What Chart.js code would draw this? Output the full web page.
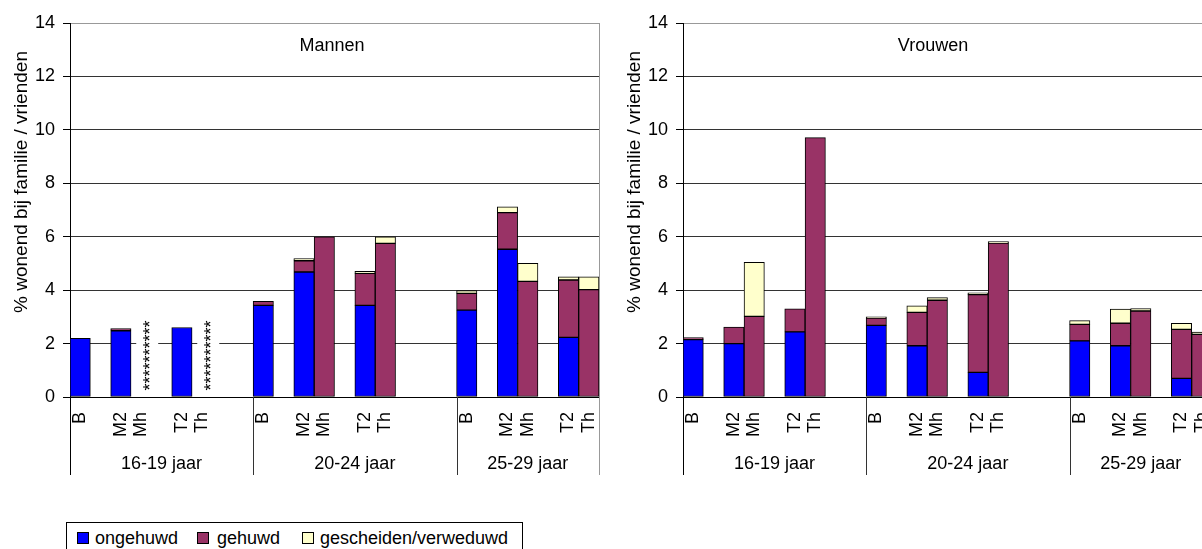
<!DOCTYPE html>
<html><head><meta charset="utf-8">
<script src="https://cdn.jsdelivr.net/npm/chart.js@4"></script>
<style>
html,body{margin:0;padding:0;background:#fff;overflow:hidden;width:1202px;height:549px;position:relative}
canvas{position:absolute;top:0}
#c1{left:0}
#c2{left:613px}
#legend{position:absolute;left:66px;top:522px;width:455px;height:40px;border:1px solid #000;font:18px 'Liberation Sans',Arial,sans-serif;color:#000;background:#fff}
.sw{position:absolute;top:9px;width:10px;height:10px;border:1px solid #000}
.lt{position:absolute;top:5px;line-height:20px;white-space:nowrap}
</style></head><body>
<canvas id="c1" width="612" height="500"></canvas>
<canvas id="c2" width="612" height="500"></canvas>
<div id="legend"></div>
<script>
// ---- data ----
const groups = ['16-19 jaar', '20-24 jaar', '25-29 jaar'];
const subLabels = ['B', 'M2', 'Mh', 'T2', 'Th'];
const seriesNames = ['ongehuwd', 'gehuwd', 'gescheiden/verweduwd'];
const yTicks = [0, 2, 4, 6, 8, 10, 12, 14];

// order per group: B, M2, Mh, T2, Th
const mannenOngehuwd   = [2.2, 2.48, null, 2.6, null,   3.43, 4.68, null, 3.43, null,   3.25, 5.53, null, 2.23, null];
const mannenGehuwd     = [null, 0.08, null, null, null, 0.15, 0.42, 6.0, 1.2, 5.75,     0.63, 1.37, 4.33, 2.15, 4.02];
const mannenGescheiden = [null, null, null, null, null, null, 0.08, null, 0.07, 0.25,   0.1, 0.22, 0.67, 0.12, 0.48];
const mannenNotes      = [null, null, '**********', null, '**********', null, null, null, null, null, null, null, null, null, null];

const vrouwenOngehuwd   = [2.15, 2.0, null, 2.44, null,  2.68, 1.92, null, 0.92, null,  2.1, 1.92, null, 0.7, null];
const vrouwenGehuwd     = [0.07, 0.62, 3.02, 0.86, 9.71, 0.27, 1.25, 3.62, 2.91, 5.76,  0.62, 0.84, 3.22, 1.83, 2.35];
const vrouwenGescheiden = [null, null, 2.02, null, null, 0.05, 0.24, 0.1, 0.07, 0.06,   0.14, 0.53, 0.09, 0.23, 0.08];
const vrouwenNotes      = [null, null, null, null, null, null, null, null, null, null, null, null, null, null, null];

// ---- layout (slots on the category axis) ----
const slotsPerGroup = [9, 10, 7];
const subSlot = [0, 2, 3, 5, 6];
const colors = ['#0000FF', '#993366', '#FFFFCC'];
const FONT = "'Liberation Sans', Arial, sans-serif";

function expand(arr) {
  const out = [];
  groups.forEach((g, gi) => {
    const row = new Array(slotsPerGroup[gi]).fill(null);
    subSlot.forEach((s, si) => { row[s] = arr[gi * subLabels.length + si]; });
    out.push(...row);
  });
  return out;
}
const slotLabels = expand(groups.flatMap(() => subLabels)).map(v => v === null ? '' : v);
const groupStart = slotsPerGroup.map((n, i) => slotsPerGroup.slice(0, i).reduce((a, b) => a + b, 0));

const decor = {
  id: 'decor',
  afterDatasetsDraw(chart, args, o) {
    const ctx = chart.ctx, x = chart.scales.x, y = chart.scales.y;
    const notes = expand(o.notes);
    ctx.save();
    notes.forEach((t, i) => {
      if (!t) return;
      const cx = x.getPixelForValue(i);
      const cy = y.getPixelForValue(1.55);
      ctx.fillStyle = '#fff';
      ctx.fillRect(cx - 5, cy - 38, 22, 76);
      ctx.translate(cx + 10, cy);
      ctx.rotate(-Math.PI / 2);
      ctx.fillStyle = '#000';
      ctx.font = '18px ' + FONT;
      ctx.textAlign = 'center';
      ctx.textBaseline = 'middle';
      ctx.fillText(t, 0, 0);
      ctx.setTransform(1, 0, 0, 1, 0, 0);
    });
    ctx.restore();
  },
  afterDraw(chart, args, o) {
    const ctx = chart.ctx, x = chart.scales.x, a = chart.chartArea;
    const slot = x.getPixelForValue(1) - x.getPixelForValue(0);
    const bottom = a.bottom + 78;
    ctx.save();
    // right plot border
    ctx.strokeStyle = '#999';
    ctx.lineWidth = 1;
    ctx.beginPath();
    ctx.moveTo(Math.round(a.right) + 0.5, a.top);
    ctx.lineTo(Math.round(a.right) + 0.5, bottom);
    ctx.stroke();
    // group separators and labels
    const bounds = groupStart.map(s => x.getPixelForValue(s) - slot / 2).concat([a.right]);
    bounds.slice(0, -1).forEach((bx, i) => {
      ctx.strokeStyle = i === 0 ? '#000' : '#333';
      ctx.beginPath();
      ctx.moveTo(Math.round(bx) + 0.5, a.bottom);
      ctx.lineTo(Math.round(bx) + 0.5, bottom);
      ctx.stroke();
    });
    ctx.fillStyle = '#000';
    ctx.font = '18px ' + FONT;
    ctx.textAlign = 'center';
    ctx.textBaseline = 'middle';
    groups.forEach((g, i) => {
      ctx.fillText(g, (bounds[i] + bounds[i + 1]) / 2, a.bottom + 67);
    });
    // panel title
    ctx.fillText(o.title, a.left + o.titleDx, 46);
    // y axis title
    ctx.translate(a.left - 48, 182);
    ctx.rotate(-Math.PI / 2);
    ctx.font = '19px ' + FONT;
    ctx.fillText(o.yTitle, 0, 0);
    ctx.restore();
  }
};

function makeChart(id, o, g, s, notes, title, titleDx) {
  return new Chart(document.getElementById(id), {
    type: 'bar',
    data: {
      labels: slotLabels,
      datasets: [o, g, s].map((d, i) => ({
        label: seriesNames[i],
        data: expand(d),
        backgroundColor: colors[i],
        borderColor: '#000',
        borderWidth: 1,
        borderSkipped: false,
        barPercentage: 1,
        categoryPercentage: 1
      }))
    },
    options: {
      responsive: false,
      animation: false,
      devicePixelRatio: 1,
      layout: { padding: { top: 23, right: 13, left: 0, bottom: 0 } },
      plugins: {
        legend: { display: false },
        tooltip: { enabled: false },
        decor: { notes: notes, title: title, titleDx: titleDx, yTitle: '% wonend bij familie / vrienden' }
      },
      scales: {
        x: {
          stacked: true,
          grid: { display: false, drawTicks: false },
          border: { display: true, color: '#000', width: 1 },
          ticks: { autoSkip: false, maxRotation: 90, minRotation: 90, padding: 15, color: '#000', font: { size: 18, family: FONT } },
          afterFit(sc) { sc.height = 103; sc.paddingLeft = 0; sc.paddingRight = 0; }
        },
        y: {
          stacked: true,
          min: 0, max: 14,
          afterBuildTicks(sc) { sc.ticks = yTicks.map(v => ({ value: v })); },
          grid: {
            color: c => (c.tick && c.tick.value === 14) ? '#999' : '#333',
            tickColor: '#000',
            tickLength: 7,
            lineWidth: 1
          },
          border: { display: true, color: '#000', width: 1 },
          ticks: { padding: 8, color: '#000', font: { size: 18, family: FONT } },
          afterFit(sc) { sc.width = 70; }
        }
      }
    },
    plugins: [decor]
  });
}

makeChart('c1', mannenOngehuwd, mannenGehuwd, mannenGescheiden, mannenNotes, 'Mannen', 262);
makeChart('c2', vrouwenOngehuwd, vrouwenGehuwd, vrouwenGescheiden, vrouwenNotes, 'Vrouwen', 250);

// legend
const lg = document.getElementById('legend');
const swX = [10, 130, 235], txX = [28, 150, 253];
seriesNames.forEach((n, i) => {
  const sw = document.createElement('div');
  sw.className = 'sw'; sw.style.left = swX[i] + 'px'; sw.style.background = colors[i];
  const t = document.createElement('div');
  t.className = 'lt'; t.style.left = txX[i] + 'px'; t.textContent = n;
  lg.appendChild(sw); lg.appendChild(t);
});
</script>
</body></html>
